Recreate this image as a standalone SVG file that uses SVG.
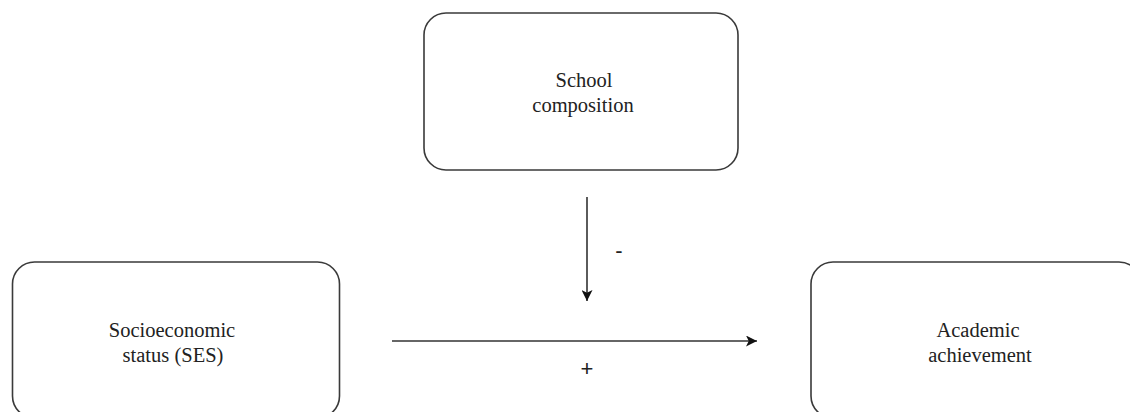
<svg xmlns="http://www.w3.org/2000/svg" width="1130" height="412" viewBox="0 0 1130 412">
<style>
.box{fill:#fff;stroke:#3a3a3a;stroke-width:1.6}
.t{font-family:"Liberation Serif","Times New Roman",serif;font-size:20.5px;fill:#222;text-anchor:middle}
.c{stroke:#333;stroke-width:1.6;fill:none}
.lbl{font-family:"Liberation Sans",Arial,sans-serif;font-size:22px;fill:#222;text-anchor:middle}
</style>
<defs>
<marker id="ah" viewBox="0 0 10 10" refX="10" refY="5" markerWidth="11" markerHeight="11" markerUnits="userSpaceOnUse" orient="auto">
<path d="M0,0 L10,5 L0,10 L2.5,5 z" fill="#111"/>
</marker>
</defs>
<rect width="1130" height="412" fill="#fff"/>
<g id="school">
<rect class="box" x="424" y="13" width="314" height="157" rx="22" ry="22"/>
<text class="t" x="584" y="87">School</text>
<text class="t" x="583" y="112">composition</text>
</g>
<g id="ses">
<rect class="box" x="12.5" y="262" width="327" height="156" rx="22" ry="22"/>
<text class="t" x="172" y="337">Socioeconomic</text>
<text class="t" x="173" y="362">status (SES)</text>
</g>
<g id="achievement">
<rect class="box" x="811" y="262" width="330" height="156" rx="22" ry="22"/>
<text class="t" x="978" y="337">Academic</text>
<text class="t" x="980" y="362">achievement</text>
</g>
<g id="connectors">
<line class="c" x1="587" y1="197" x2="587" y2="301" marker-end="url(#ah)"/>
<text class="lbl" x="619" y="258">-</text>
<line class="c" x1="392" y1="341" x2="757" y2="341" marker-end="url(#ah)"/>
<text class="lbl" x="587" y="376">+</text>
</g>
</svg>
